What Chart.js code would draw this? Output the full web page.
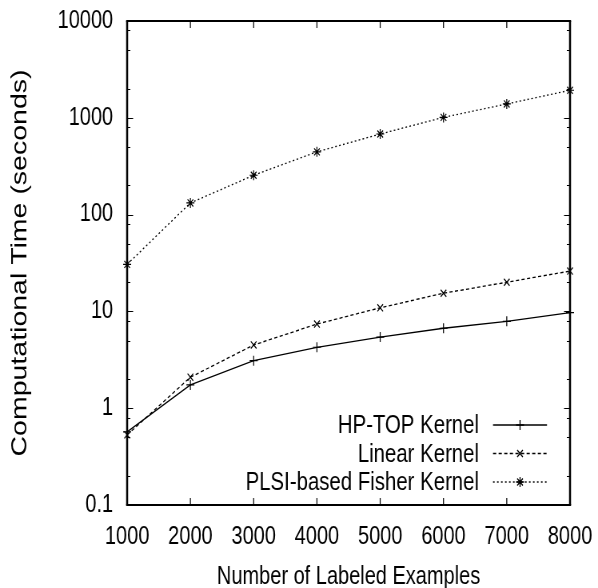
<!DOCTYPE html>
<html>
<head>
<meta charset="utf-8">
<script src="https://cdn.jsdelivr.net/npm/chart.js@4.4.0/dist/chart.umd.min.js"></script>
<style>
  html, body { margin: 0; padding: 0; background: #fff; overflow: hidden; }
  /* el original de gnuplot esta comprimido en horizontal */
  #marco { width: 748px; height: 588px; transform: scaleX(0.79947); transform-origin: 0 0; }
</style>
</head>
<body>
<div id="marco"><canvas id="Grafico" width="748" height="588"></canvas></div>
<script>
// datos
const ejemplos = [1000, 2000, 3000, 4000, 5000, 6000, 7000, 8000];
const hpTop = [0.57, 1.74, 3.1, 4.26, 5.43, 6.7, 7.9, 9.7];
const lineal = [0.53, 2.09, 4.5, 7.4, 10.9, 15.4, 20, 26.1];
const plsi = [30.6, 132, 255, 445, 680, 1010, 1390, 1925];
const yMarcas = [0.1, 1, 10, 100, 1000, 10000];
const yMenores = [2, 5, 8];
const etiquetas = ['HP-TOP Kernel', 'Linear Kernel', 'PLSI-based Fisher Kernel'];

const k = 598 / 748;
const fuente = '"Liberation Sans", Arial, sans-serif';

function puntos(valores) {
  return ejemplos.map((x, i) => ({ x: x, y: valores[i] }));
}

// sin relleno extra por las etiquetas, el area la fija layout.padding
function fijarEje(s, ancho, alto) {
  if (ancho) s.width = ancho;
  if (alto) s.height = alto;
  s.paddingTop = 0; s.paddingBottom = 0; s.paddingLeft = 0; s.paddingRight = 0;
}

// marcas hacia adentro, caja completa y leyenda al estilo gnuplot
const marcasGnuplot = {
  id: 'marcasGnuplot',
  afterDraw(chart) {
    const ctx = chart.ctx;
    const area = chart.chartArea;
    const sx = chart.scales.x;
    const sy = chart.scales.y;
    ctx.save();
    ctx.strokeStyle = '#000';
    ctx.lineWidth = 1.2;
    ctx.beginPath();
    ejemplos.forEach(v => {
      const px = sx.getPixelForValue(v);
      ctx.moveTo(px, area.bottom); ctx.lineTo(px, area.bottom - 7);
      ctx.moveTo(px, area.top); ctx.lineTo(px, area.top + 7);
    });
    ctx.stroke();
    ctx.lineWidth = 1;
    ctx.beginPath();
    yMarcas.forEach((v, i) => {
      const py = Math.round(sy.getPixelForValue(v)) + 0.5;
      ctx.moveTo(area.left, py); ctx.lineTo(area.left + 7.5, py);
      ctx.moveTo(area.right, py); ctx.lineTo(area.right - 7.5, py);
      if (i < yMarcas.length - 1) {
        yMenores.forEach(m => {
          const pm = Math.round(sy.getPixelForValue(v * m)) + 0.5;
          ctx.moveTo(area.left, pm); ctx.lineTo(area.left + 4, pm);
          ctx.moveTo(area.right, pm); ctx.lineTo(area.right - 4, pm);
        });
      }
    });
    ctx.stroke();

    // caja
    ctx.lineWidth = 2;
    ctx.beginPath();
    ctx.moveTo(area.left - 1.25, area.top); ctx.lineTo(area.right + 1.25, area.top);
    ctx.moveTo(area.left - 1.25, area.bottom); ctx.lineTo(area.right + 1.25, area.bottom);
    ctx.stroke();
    ctx.lineWidth = 2.5;
    ctx.beginPath();
    ctx.moveTo(area.left, area.top); ctx.lineTo(area.left, area.bottom);
    ctx.moveTo(area.right, area.top); ctx.lineTo(area.right, area.bottom);
    ctx.stroke();

    // leyenda
    ctx.font = '25.5px ' + fuente;
    ctx.textAlign = 'right';
    ctx.textBaseline = 'middle';
    ctx.fillStyle = '#000';
    chart.data.datasets.forEach((ds, i) => {
      const y = 425 + i * 28.5;
      ctx.fillText(ds.label, 479 / k, y + 1);
      ctx.setLineDash(ds.borderDash || []);
      ctx.lineWidth = ds.borderWidth;
      ctx.beginPath();
      ctx.moveTo(493 / k, y); ctx.lineTo(547 / k, y);
      ctx.stroke();
      ctx.setLineDash([]);
      Chart.helpers.drawPoint(ctx, {
        pointStyle: ds.pointStyle, radius: ds.pointRadius, rotation: 0, borderWidth: 1.2
      }, 520 / k, y);
    });
    ctx.restore();
  }
};

const config = {
  type: 'line',
  data: {
    datasets: [{
      label: etiquetas[0],
      data: puntos(hpTop),
      borderColor: '#000', backgroundColor: '#000',
      borderWidth: 1.3, pointStyle: 'cross', pointRadius: 5,
      pointBorderWidth: 1.2, clip: false
    }, {
      label: etiquetas[1],
      data: puntos(lineal),
      borderColor: '#000', backgroundColor: '#000',
      borderWidth: 1.3, borderDash: [4, 3], pointStyle: 'crossRot', pointRadius: 5,
      pointBorderWidth: 1.2, clip: false
    }, {
      label: etiquetas[2],
      data: puntos(plsi),
      borderColor: '#000', backgroundColor: '#000',
      borderWidth: 1.3, borderDash: [2, 3], pointStyle: 'star', pointRadius: 5,
      pointBorderWidth: 1.2, clip: false
    }]
  },
  options: {
    responsive: false,
    animation: false,
    devicePixelRatio: 1,
    layout: { padding: { left: 0, top: 21, right: 35, bottom: 0 } },
    plugins: { legend: { display: false }, tooltip: { enabled: false } },
    scales: {
      x: {
        type: 'linear', min: 1000, max: 8000,
        afterFit: s => fijarEje(s, 0, 83),
        afterBuildTicks: s => { s.ticks = ejemplos.map(v => ({ value: v })); },
        grid: { display: false, drawTicks: false },
        border: { display: false },
        ticks: { color: '#000', padding: 17, maxRotation: 0, font: { family: fuente, size: 25 },
                 callback: v => String(v) },
        title: { display: true, text: 'Number of Labeled Examples', color: '#000',
                 padding: { top: 0, bottom: 0.5 }, font: { family: fuente, size: 25, lineHeight: 0.8 } }
      },
      y: {
        type: 'logarithmic', min: 0.1, max: 10000,
        afterFit: s => fijarEje(s, 159, 0),
        afterBuildTicks: s => { s.ticks = yMarcas.map(v => ({ value: v })); },
        grid: { display: false, drawTicks: false },
        border: { display: false },
        ticks: { color: '#000', padding: 17.5, font: { family: fuente, size: 25 },
                 callback: v => String(v) },
        title: { display: true, text: 'Computational Time (seconds)', color: '#000',
                 padding: { top: 8.5, bottom: 0 }, font: { family: fuente, size: 28.5 } }
      }
    }
  },
  plugins: [marcasGnuplot]
};

new Chart(document.getElementById('Grafico'), config);
</script>
</body>
</html>
